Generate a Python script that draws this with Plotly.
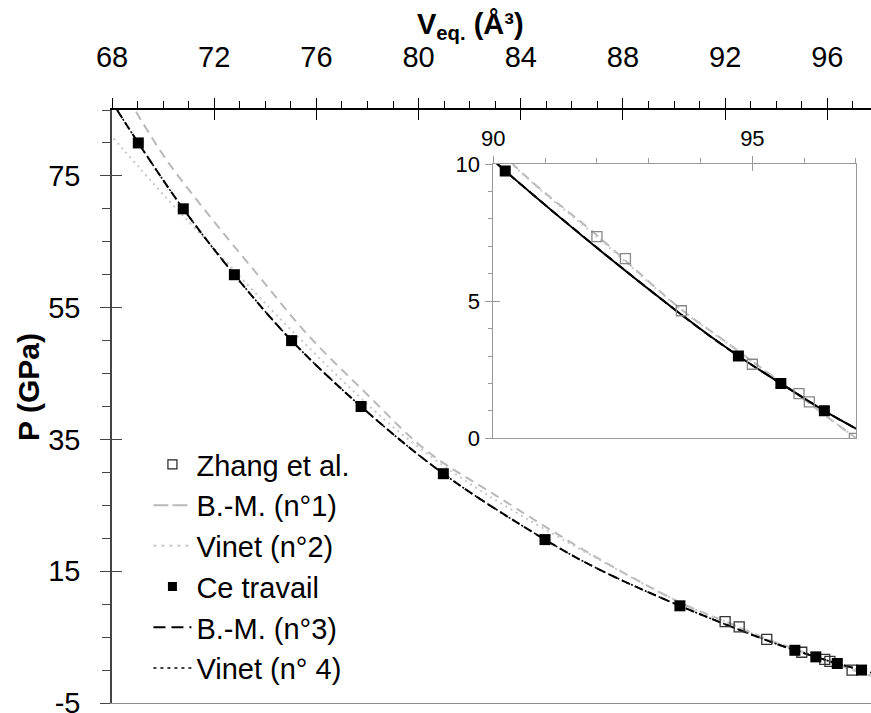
import plotly.graph_objects as go

# ---------------- data ----------------
zhang_V = [92.0, 92.55, 93.63, 95.0, 95.9, 96.1, 96.97]
zhang_P = [7.35, 6.55, 4.65, 2.7, 1.63, 1.33, 0.0]

ce_V = [69.03, 70.79, 72.79, 75.03, 77.75, 80.97, 84.95, 90.23, 94.73, 95.55, 96.39, 97.34]
ce_P = [80.0, 70.0, 60.0, 50.0, 40.0, 29.8, 19.8, 9.75, 3.0, 2.0, 1.0, 0.0]

bm1_V = [68.94, 70.14, 71.84, 73.66, 75.62, 77.97, 80.31, 82.92, 86.83, 90.36, 92.0, 93.63, 94.45, 95.9, 97.1, 97.71]
bm1_P = [84.74, 77.4, 68.8, 60.2, 51.06, 41.9, 33.3, 26.75, 17.4, 10.03, 7.4, 4.7, 3.57, 1.55, -0.12, -0.87]

vin2_V = [67.9, 70.14, 71.84, 73.4, 74.84, 77.0, 79.0, 81.5, 84.0, 87.0, 90.36, 92.0, 93.63, 94.45, 95.9, 97.1, 97.71]
vin2_P = [81.4, 71.6, 64.6, 58.1, 52.3, 44.0, 36.9, 29.6, 23.5, 16.9, 10.0, 7.35, 4.68, 3.55, 1.55, -0.12, -0.85]

bm3_V = [68.2, 69.03, 70.79, 72.79, 75.03, 77.75, 80.97, 84.95, 87.0, 90.23, 93.6, 94.73, 95.55, 96.39, 97.34, 97.71]
bm3_P = [85.0, 80.0, 70.0, 60.0, 50.0, 40.0, 29.8, 19.8, 15.4, 9.75, 4.55, 3.0, 2.0, 1.0, 0.0, -0.4]

vin4_V = [68.2, 69.03, 70.79, 72.79, 75.03, 77.75, 80.97, 84.95, 87.0, 90.23, 93.6, 94.73, 95.55, 96.39, 97.34, 97.71]
vin4_P = [85.0, 80.0, 70.0, 60.0, 50.0, 40.0, 29.8, 19.8, 15.4, 9.75, 4.55, 3.0, 2.0, 1.0, 0.0, -0.4]

names = ["Zhang et al.", "B.-M. (n°1)", "Vinet (n°2)", "Ce travail", "B.-M. (n°3)", "Vinet (n° 4)"]

y_tick_vals = [-5, 15, 35, 55, 75]
y_tick_text = ["-5", "15", "35", "55", "75"]

FONT = "Liberation Sans, Arial, sans-serif"
GRAY_DASH = "#b9b9b9"
GRAY_DOT = "#c8c8c8"

fig = go.Figure()

def add_set(xa, ya, inset):
    fig.add_trace(go.Scatter(x=bm1_V, y=bm1_P, mode="lines", name=names[1],
                             line=dict(color=GRAY_DASH, width=2, dash="9px,6px", shape="spline"),
                             showlegend=False, xaxis=xa, yaxis=ya, hoverinfo="skip"))
    fig.add_trace(go.Scatter(x=vin2_V, y=vin2_P, mode="lines", name=names[2],
                             line=dict(color=GRAY_DOT, width=2, dash="2px,4px", shape="spline"),
                             showlegend=False, xaxis=xa, yaxis=ya, hoverinfo="skip"))
    fig.add_trace(go.Scatter(x=bm3_V, y=bm3_P, mode="lines", name=names[4],
                             line=dict(color="black", width=2, dash="9px,5px", shape="spline"),
                             showlegend=False, xaxis=xa, yaxis=ya, hoverinfo="skip"))
    fig.add_trace(go.Scatter(x=vin4_V, y=vin4_P, mode="lines", name=names[5],
                             line=dict(color="black", width=1.6 if not inset else 2,
                                       dash="2px,3px" if not inset else "solid", shape="spline"),
                             showlegend=False, xaxis=xa, yaxis=ya, hoverinfo="skip"))
    zc = "#888888" if inset else "#333333"
    fig.add_trace(go.Scatter(x=zhang_V, y=zhang_P, mode="markers", name=names[0],
                             marker=dict(symbol="square-open", size=10, color=zc, line=dict(width=1.3, color=zc)),
                             showlegend=False, xaxis=xa, yaxis=ya, hoverinfo="skip"))
    fig.add_trace(go.Scatter(x=ce_V, y=ce_P, mode="markers", name=names[3],
                             marker=dict(symbol="square", size=11, color="black", line=dict(width=0)),
                             showlegend=False, xaxis=xa, yaxis=ya, hoverinfo="skip"))

add_set("x", "y", False)
add_set("x2", "y2", True)

# legend entries (empty data, shown only in the legend)
fig.add_trace(go.Scatter(x=[None], y=[None], mode="markers", name=names[0],
                         marker=dict(symbol="square-open", size=9, color="#222", line=dict(width=1.2, color="#222"))))
fig.add_trace(go.Scatter(x=[None], y=[None], mode="lines", name=names[1],
                         line=dict(color=GRAY_DASH, width=2, dash="15px,4px")))
fig.add_trace(go.Scatter(x=[None], y=[None], mode="lines", name=names[2],
                         line=dict(color=GRAY_DOT, width=2, dash="3px,5px")))
fig.add_trace(go.Scatter(x=[None], y=[None], mode="markers", name=names[3],
                         marker=dict(symbol="square", size=9, color="black")))
fig.add_trace(go.Scatter(x=[None], y=[None], mode="lines", name=names[4],
                         line=dict(color="black", width=2, dash="12px,6px")))
fig.add_trace(go.Scatter(x=[None], y=[None], mode="lines", name=names[5],
                         line=dict(color="black", width=1.5, dash="3px,4px")))

# dummy traces for overlay axes
fig.add_trace(go.Scatter(x=[None], y=[None], xaxis="x3", yaxis="y3", showlegend=False))
fig.add_trace(go.Scatter(x=[None], y=[None], xaxis="x5", yaxis="y", showlegend=False))
fig.add_trace(go.Scatter(x=[None], y=[None], xaxis="x4", yaxis="y4", showlegend=False))

XR = [68, 97.71]
YR = [-5, 85]
IXR = [90, 97]
IYR = [0, 10]
inset_xdom = [0.5024, 0.9802]
inset_ydom = [0.4464, 0.9089]

fig.update_layout(
    width=871, height=713,
    margin=dict(l=112, r=0, t=110, b=10),
    paper_bgcolor="white", plot_bgcolor="white",
    font=dict(family=FONT, color="black"),
    showlegend=True,
    legend=dict(x=0.048, y=0.445, xanchor="left", yanchor="top",
                font=dict(family=FONT, size=29, color="black"),
                bgcolor="rgba(0,0,0,0)", borderwidth=0,
                tracegroupgap=0, itemwidth=38, itemsizing="trace"),
    xaxis=dict(domain=[0, 1], range=XR, side="top", anchor="y", automargin=False,
               showline=True, linecolor="black", linewidth=1.5,
               ticks="outside", ticklen=10, tickwidth=1.2, tickcolor="black",
               tick0=68, dtick=4, tickfont=dict(size=29, family=FONT),
               ticklabelstandoff=20, ticklabeloverflow="allow",
               minor=dict(ticks="outside", ticklen=7, dtick=1, tickcolor="black", tickwidth=1, showgrid=False),
               showgrid=False, zeroline=False),
    yaxis=dict(domain=[0, 1], range=YR, side="left", anchor="x", automargin=False,
               showline=True, linecolor="#444", linewidth=1.5,
               ticks="outside", ticklen=10, tickwidth=1.2, tickcolor="#444",
               tickmode="array", tickvals=y_tick_vals, ticktext=y_tick_text,
               tickfont=dict(size=29, family=FONT),
               ticklabelstandoff=14, ticklabeloverflow="allow",
               minor=dict(ticks="outside", ticklen=8, tick0=-5, dtick=5, tickcolor="#444", tickwidth=1, showgrid=False),
               showgrid=False, zeroline=False),
    xaxis3=dict(overlaying="x", range=XR, side="top", anchor="y3", automargin=False,
                showline=False, ticks="inside", ticklen=10, tickwidth=1.2, tickcolor="black",
                tick0=68, dtick=4, showticklabels=False, showgrid=False, zeroline=False),
    yaxis3=dict(overlaying="y", range=YR, side="left", anchor="x3", automargin=False,
                showline=False, ticks="inside", ticklen=10, tickwidth=1.2, tickcolor="#444",
                tick0=-5, dtick=20, showticklabels=False, showgrid=False, zeroline=False),
    xaxis5=dict(overlaying="x", range=XR, side="bottom", anchor="y", automargin=False,
                showline=True, linecolor="#8c8c8c", linewidth=1.2,
                ticks="", showticklabels=False, showgrid=False, zeroline=False),
    xaxis2=dict(domain=inset_xdom, range=IXR, side="top", anchor="y2", automargin=False,
                showline=True, mirror=True, linecolor="#9a9a9a", linewidth=1,
                ticks="outside", ticklen=7, tickwidth=1, tickcolor="#9a9a9a",
                tick0=90, dtick=5, tickfont=dict(size=22, family=FONT),
                ticklabelstandoff=1,
                minor=dict(ticks="outside", ticklen=5, dtick=1, tickcolor="#9a9a9a", tickwidth=1, showgrid=False),
                showgrid=False, zeroline=False),
    yaxis2=dict(domain=inset_ydom, range=IYR, side="left", anchor="x2", automargin=False,
                showline=True, mirror=True, linecolor="#9a9a9a", linewidth=1,
                ticks="outside", ticklen=7, tickwidth=1, tickcolor="#9a9a9a",
                tick0=0, dtick=5, tickfont=dict(size=22, family=FONT),
                ticklabelstandoff=1,
                minor=dict(ticks="outside", ticklen=4, dtick=1, tickcolor="#9a9a9a", tickwidth=1, showgrid=False),
                showgrid=False, zeroline=False),
    xaxis4=dict(overlaying="x2", range=IXR, side="top", anchor="y4", automargin=False,
                showline=False, ticks="inside", ticklen=7, tickwidth=1, tickcolor="#9a9a9a",
                tick0=90, dtick=5, showticklabels=False, showgrid=False, zeroline=False),
    yaxis4=dict(overlaying="y2", range=IYR, side="left", anchor="x4", automargin=False,
                showline=False, ticks="inside", ticklen=7, tickwidth=1, tickcolor="#9a9a9a",
                tick0=0, dtick=5, showticklabels=False, showgrid=False, zeroline=False),
    annotations=[
        dict(text="<b>V<sub>eq.</sub> (Å³)</b>", xref="paper", yref="paper",
             x=0.472, y=1.142, xanchor="center", yanchor="middle", showarrow=False,
             font=dict(size=29, family=FONT, color="black")),
        dict(text="<b>P (GPa)</b>", xref="paper", yref="paper", textangle=-90,
             x=-0.1094, y=0.533, xanchor="center", yanchor="middle", showarrow=False,
             font=dict(size=30, family=FONT, color="black")),
    ],
)

fig.write_html("out.html",
               config={"displayModeBar": False},
               post_script="document.body.style.margin='0px';document.body.style.overflow='hidden';")
